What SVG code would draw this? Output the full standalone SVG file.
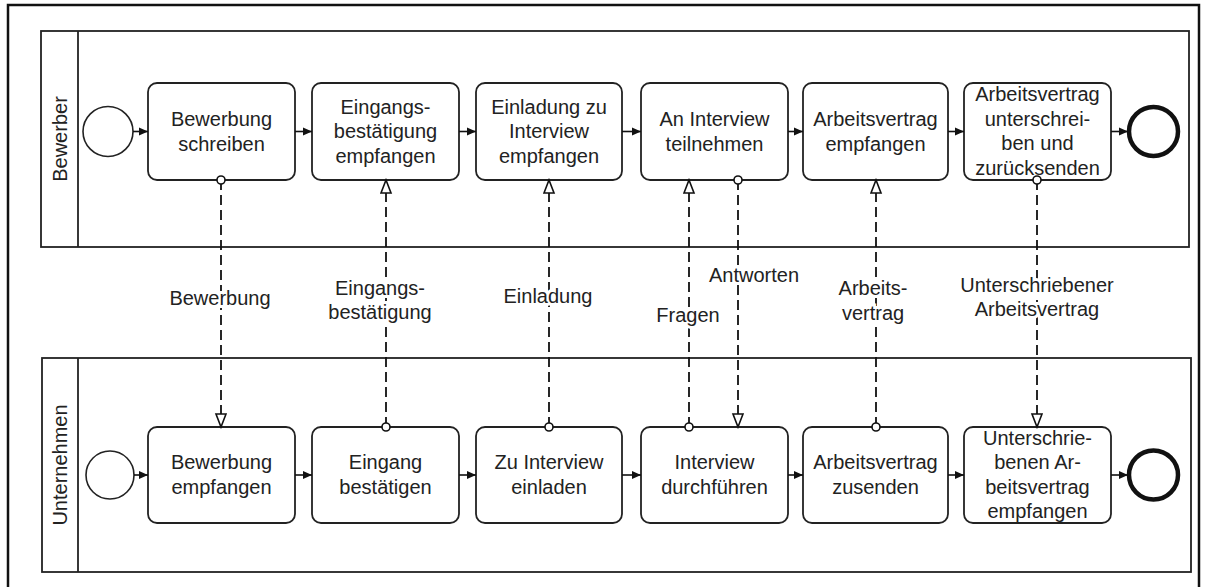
<svg xmlns="http://www.w3.org/2000/svg" width="1206" height="587" viewBox="0 0 1206 587">
<style>
text{font-family:"Liberation Sans",Arial,sans-serif;font-size:20px;fill:#222;text-anchor:middle}
.task{fill:#fff;stroke:#222;stroke-width:1.8}
.pool{fill:none;stroke:#222;stroke-width:1.8}
.seq{stroke:#111;stroke-width:1.6;fill:none;marker-end:url(#seqArrow)}
.msg{stroke:#111;stroke-width:1.8;fill:none;stroke-dasharray:10 5;marker-start:url(#msgStart);marker-end:url(#msgEnd)}
.lbl{paint-order:stroke;stroke:#fff;stroke-width:6px}
.start{fill:#fff;stroke:#222;stroke-width:1.6}
.end{fill:#fff;stroke:#111;stroke-width:4.5}
</style>
<defs>
<marker id="seqArrow" markerUnits="userSpaceOnUse" markerWidth="10" markerHeight="10" refX="9" refY="5" orient="auto">
<path d="M0,1 L9,5 L0,9 z" fill="#111"/>
</marker>
<marker id="msgEnd" markerUnits="userSpaceOnUse" markerWidth="16" markerHeight="14" refX="14" refY="6" orient="auto">
<path d="M1,1 L14,6 L1,11 z" fill="#fff" stroke="#111" stroke-width="1.6"/>
</marker>
<marker id="msgStart" markerUnits="userSpaceOnUse" markerWidth="12" markerHeight="12" refX="6" refY="6" orient="auto">
<circle cx="6" cy="6" r="4" fill="#fff" stroke="#111" stroke-width="1.6"/>
</marker>
</defs>
<rect x="0" y="0" width="1206" height="587" fill="#fff"/>
<rect x="8" y="5" width="1191" height="600" fill="none" stroke="#111" stroke-width="2.5"/>

<g id="pool-bewerber">
<rect class="pool" x="41" y="31" width="1148" height="216"/>
<line class="pool" x1="78" y1="31" x2="78" y2="247"/>
<text transform="translate(66.5,139) rotate(-90)">Bewerber</text>
</g>
<g id="pool-unternehmen">
<rect class="pool" x="42" y="358" width="1149" height="214"/>
<line class="pool" x1="78" y1="358" x2="78" y2="572"/>
<text transform="translate(66.5,465) rotate(-90)">Unternehmen</text>
</g>

<g id="start-bewerber"><circle class="start" cx="108" cy="131.5" r="25"/></g>
<g id="end-bewerber"><circle class="end" cx="1153.5" cy="131.5" r="24.5"/></g>
<g id="start-unternehmen"><circle class="start" cx="110" cy="475" r="24"/></g>
<g id="end-unternehmen"><circle class="end" cx="1153.5" cy="475" r="24.5"/></g>

<g id="t1"><rect class="task" x="148" y="83" width="147" height="97" rx="9"/>
<text x="221.5" y="126">Bewerbung</text><text x="221.5" y="150.5">schreiben</text></g>
<g id="t2"><rect class="task" x="312" y="83" width="147" height="97" rx="9"/>
<text x="385.5" y="113.5">Eingangs-</text><text x="385.5" y="138">bestätigung</text><text x="385.5" y="162.5">empfangen</text></g>
<g id="t3"><rect class="task" x="476" y="83" width="146" height="97" rx="9"/>
<text x="549" y="113.5">Einladung zu</text><text x="549" y="138">Interview</text><text x="549" y="162.5">empfangen</text></g>
<g id="t4"><rect class="task" x="641" y="83" width="147" height="97" rx="9"/>
<text x="714.5" y="126">An Interview</text><text x="714.5" y="150.5">teilnehmen</text></g>
<g id="t5"><rect class="task" x="803" y="83" width="145" height="97" rx="9"/>
<text x="875.5" y="126">Arbeitsvertrag</text><text x="875.5" y="150.5">empfangen</text></g>
<g id="t6"><rect class="task" x="964" y="83" width="147" height="97" rx="9"/>
<text x="1037.5" y="101">Arbeitsvertrag</text><text x="1037.5" y="125.5">unterschrei-</text><text x="1037.5" y="150">ben und</text><text x="1037.5" y="174.5">zurücksenden</text></g>

<g id="b1"><rect class="task" x="148" y="427" width="147" height="96" rx="9"/>
<text x="221.5" y="469">Bewerbung</text><text x="221.5" y="493.5">empfangen</text></g>
<g id="b2"><rect class="task" x="312" y="427" width="147" height="96" rx="9"/>
<text x="385.5" y="469">Eingang</text><text x="385.5" y="493.5">bestätigen</text></g>
<g id="b3"><rect class="task" x="476" y="427" width="146" height="96" rx="9"/>
<text x="549" y="469">Zu Interview</text><text x="549" y="493.5">einladen</text></g>
<g id="b4"><rect class="task" x="641" y="427" width="147" height="96" rx="9"/>
<text x="714.5" y="469">Interview</text><text x="714.5" y="493.5">durchführen</text></g>
<g id="b5"><rect class="task" x="803" y="427" width="145" height="96" rx="9"/>
<text x="875.5" y="469">Arbeitsvertrag</text><text x="875.5" y="493.5">zusenden</text></g>
<g id="b6"><rect class="task" x="964" y="427" width="147" height="96" rx="9"/>
<text x="1037.5" y="444.5">Unterschrie-</text><text x="1037.5" y="469">benen Ar-</text><text x="1037.5" y="493.5">beitsvertrag</text><text x="1037.5" y="518">empfangen</text></g>

<g id="connectors">
<line class="seq" x1="133" y1="131.5" x2="148" y2="131.5"/>
<line class="seq" x1="295" y1="131.5" x2="312" y2="131.5"/>
<line class="seq" x1="459" y1="131.5" x2="476" y2="131.5"/>
<line class="seq" x1="622" y1="131.5" x2="641" y2="131.5"/>
<line class="seq" x1="788" y1="131.5" x2="803" y2="131.5"/>
<line class="seq" x1="948" y1="131.5" x2="964" y2="131.5"/>
<line class="seq" x1="1111" y1="131.5" x2="1128" y2="131.5"/>

<line class="seq" x1="134" y1="475" x2="148" y2="475"/>
<line class="seq" x1="295" y1="475" x2="312" y2="475"/>
<line class="seq" x1="459" y1="475" x2="476" y2="475"/>
<line class="seq" x1="622" y1="475" x2="641" y2="475"/>
<line class="seq" x1="788" y1="475" x2="803" y2="475"/>
<line class="seq" x1="948" y1="475" x2="964" y2="475"/>
<line class="seq" x1="1111" y1="475" x2="1128" y2="475"/>

<line class="msg" x1="221" y1="180" x2="221" y2="427"/>
<line class="msg" x1="386" y1="427" x2="386" y2="180"/>
<line class="msg" x1="549" y1="427" x2="549" y2="180"/>
<line class="msg" x1="689" y1="427" x2="689" y2="180"/>
<line class="msg" x1="738" y1="180" x2="738" y2="427"/>
<line class="msg" x1="876" y1="427" x2="876" y2="180"/>
<line class="msg" x1="1037" y1="180" x2="1037" y2="427"/>

<text class="lbl" x="220" y="305">Bewerbung</text>
<text class="lbl" x="380" y="295">Eingangs-</text>
<text class="lbl" x="380" y="319">bestätigung</text>
<text class="lbl" x="548" y="303">Einladung</text>
<text class="lbl" x="688" y="322">Fragen</text>
<text class="lbl" x="754" y="282">Antworten</text>
<text class="lbl" x="873" y="295">Arbeits-</text>
<text class="lbl" x="873" y="320">vertrag</text>
<text class="lbl" x="1037" y="292">Unterschriebener</text>
<text class="lbl" x="1037" y="316">Arbeitsvertrag</text>
</g>
</svg>
